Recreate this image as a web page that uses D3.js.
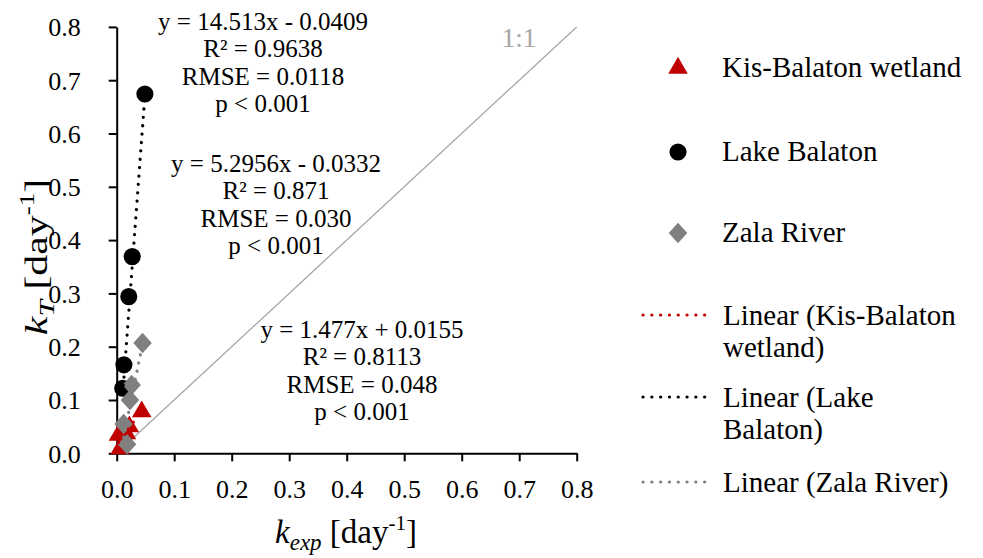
<!DOCTYPE html>
<html>
<head>
<meta charset="utf-8">
<script src="https://cdn.jsdelivr.net/npm/d3@7"></script>
<style>
  body { margin: 0; background: #fff; }
  text { font-family: "Liberation Serif", "Times New Roman", serif; }
</style>
</head>
<body>
<div id="chart"></div>
<script>
// series names, colors, markers
var seriesNames = ['Kis-Balaton wetland', 'Lake Balaton', 'Zala River'];
var seriesColors = ['#c00000', '#000000', '#808080'];

// points [kexp, kT]
var kisBalaton = [[0.003, 0.034], [0.006, 0.009], [0.017, 0.037], [0.022, 0.050], [0.0435, 0.078]];
var lakeBalaton = [[0.0105, 0.122], [0.0125, 0.166], [0.021, 0.294], [0.027, 0.369], [0.049, 0.674]];
var zalaRiver = [[0.012, 0.055], [0.018, 0.017], [0.023, 0.100], [0.026, 0.128], [0.045, 0.207]];

// regressions from the labels
var slopes = [1.477, 14.513, 5.2956];
var intercepts = [0.0155, -0.0409, -0.0332];
var eqLabels = [
  ['y = 1.477x + 0.0155', 'R\u00B2 = 0.8113', 'RMSE = 0.048', 'p < 0.001'],
  ['y = 14.513x - 0.0409', 'R\u00B2 = 0.9638', 'RMSE = 0.0118', 'p < 0.001'],
  ['y = 5.2956x - 0.0332', 'R\u00B2 = 0.871', 'RMSE = 0.030', 'p < 0.001']
];
var trendNames = ['Linear (Kis-Balaton|wetland)', 'Linear (Lake|Balaton)', 'Linear (Zala River)'];

var xTicks = [0, 0.1, 0.2, 0.3, 0.4, 0.5, 0.6, 0.7, 0.8];
var yTicks = [0, 0.1, 0.2, 0.3, 0.4, 0.5, 0.6, 0.7, 0.8];

var allSeries = [kisBalaton, lakeBalaton, zalaRiver];

var W = 983, H = 558;
var svg = d3.select('#chart').append('svg')
    .attr('width', W)
    .attr('height', H);

var x = d3.scaleLinear().domain([0, 0.8]).range([116.7, 576.7]);
var y = d3.scaleLinear().domain([0, 0.8]).range([453.3, 26.9]);

// 1:1 line
svg.append('line')
    .attr('x1', x(0)).attr('y1', y(0))
    .attr('x2', x(0.8)).attr('y2', y(0.8))
    .attr('stroke', '#a6a6a6')
    .attr('stroke-width', 1.3);
svg.append('text')
    .attr('x', 519).attr('y', 47)
    .attr('text-anchor', 'middle')
    .attr('font-size', 27)
    .attr('fill', '#a6a6a6')
    .text('1:1');

// axes
var fmt = d3.format('.1f');
var xAxis = svg.append('g')
    .attr('transform', 'translate(0,' + y(0) + ')')
    .call(d3.axisBottom(x).tickValues(xTicks).tickFormat(fmt).tickSize(8).tickSizeOuter(0));
var yAxis = svg.append('g')
    .attr('transform', 'translate(' + x(0) + ',0)')
    .call(d3.axisLeft(y).tickValues(yTicks).tickFormat(fmt).tickSize(8).tickSizeOuter(0));

[xAxis, yAxis].forEach(function(a) {
  a.select('.domain').attr('stroke', '#000').attr('stroke-width', 2);
  a.selectAll('.tick line').attr('stroke', '#000').attr('stroke-width', 2);
  a.selectAll('.tick text')
    .attr('font-size', 26)
    .attr('fill', '#000');
});
xAxis.selectAll('.tick text').attr('dy', null).attr('y', 45);
yAxis.selectAll('.tick text').attr('x', -36).attr('dy', '0.34em');

// axis titles
var xt = svg.append('text')
    .attr('x', 346).attr('y', 543)
    .attr('text-anchor', 'middle')
    .attr('font-size', 33);
xt.append('tspan').attr('font-style', 'italic').text('k');
xt.append('tspan').attr('font-style', 'italic').attr('font-size', 23).attr('dy', 7).text('exp');
xt.append('tspan').attr('dy', -7).text(' [day');
xt.append('tspan').attr('font-size', 21).attr('dy', -13).text('-1');
xt.append('tspan').attr('dy', 13).text(']');

// y title is drawn a bit stretched along its length in the original
var yt = svg.append('text')
    .attr('transform', 'translate(47,257) rotate(-90) scale(1.35,1)')
    .attr('text-anchor', 'middle')
    .attr('font-size', 31);
yt.append('tspan').attr('font-style', 'italic').text('k');
yt.append('tspan').attr('font-style', 'italic').attr('font-size', 22).attr('dy', 7).text('T');
yt.append('tspan').attr('dy', -7).text(' [day');
yt.append('tspan').attr('font-size', 20).attr('dy', -13).text('-1');
yt.append('tspan').attr('dy', 13).text(']');

// marker shapes
var symbolTypes = [d3.symbolTriangle, d3.symbolCircle, d3.symbolDiamond];
var symbolSizes = [165, 230, 190];
function markerPath(i) {
  return d3.symbol().type(symbolTypes[i]).size(symbolSizes[i])();
}
function markerTransform(i) {
  // squarer diamond, like Excel
  return i === 2 ? ' scale(1.25,0.8)' : '';
}

// points
allSeries.forEach(function(data, i) {
  svg.append('g').selectAll('path')
    .data(data)
    .enter().append('path')
    .attr('d', markerPath(i))
    .attr('transform', function(d) {
      return 'translate(' + x(d[0]) + ',' + y(d[1]) + ')' + markerTransform(i);
    })
    .attr('fill', seriesColors[i]);
});

// trend lines across each series' x range
allSeries.forEach(function(data, i) {
  var ext = d3.extent(data, function(d) { return d[0]; });
  svg.append('line')
    .attr('x1', x(ext[0])).attr('y1', y(slopes[i] * ext[0] + intercepts[i]))
    .attr('x2', x(ext[1])).attr('y2', y(slopes[i] * ext[1] + intercepts[i]))
    .attr('stroke', seriesColors[i])
    .attr('stroke-width', 3.2)
    .attr('stroke-linecap', 'round')
    .attr('stroke-dasharray', '0.1 8.3');
});

// regression labels
var labelPos = [[362, 338], [263, 30], [276, 172]];
eqLabels.forEach(function(lines, i) {
  var t = svg.append('text')
    .attr('text-anchor', 'middle')
    .attr('font-size', 25)
    .attr('fill', '#000');
  lines.forEach(function(s, j) {
    t.append('tspan')
      .attr('x', labelPos[i][0])
      .attr('y', labelPos[i][1] + j * 27.4)
      .text(s);
  });
});

// legend: markers
var legend = svg.append('g');
var legRows = [68, 152, 233];
seriesNames.forEach(function(name, i) {
  legend.append('path')
    .attr('d', markerPath(i))
    .attr('transform', 'translate(678,' + legRows[i] + ')' + markerTransform(i))
    .attr('fill', seriesColors[i]);
  legend.append('text')
    .attr('x', 722).attr('y', legRows[i] + 9)
    .attr('font-size', 29)
    .text(name);
});

// legend: trend lines
var trendRows = [315, 397, 482];
trendNames.forEach(function(name, i) {
  legend.append('line')
    .attr('x1', 643).attr('x2', 713)
    .attr('y1', trendRows[i]).attr('y2', trendRows[i])
    .attr('stroke', seriesColors[i])
    .attr('stroke-width', 3.2)
    .attr('stroke-linecap', 'round')
    .attr('stroke-dasharray', '0.1 8.7');
  var parts = name.split('|');
  parts.forEach(function(p, j) {
    legend.append('text')
      .attr('x', 723).attr('y', trendRows[i] + 10 + j * 32)
      .attr('font-size', 29)
      .text(p);
  });
});
</script>
</body>
</html>
